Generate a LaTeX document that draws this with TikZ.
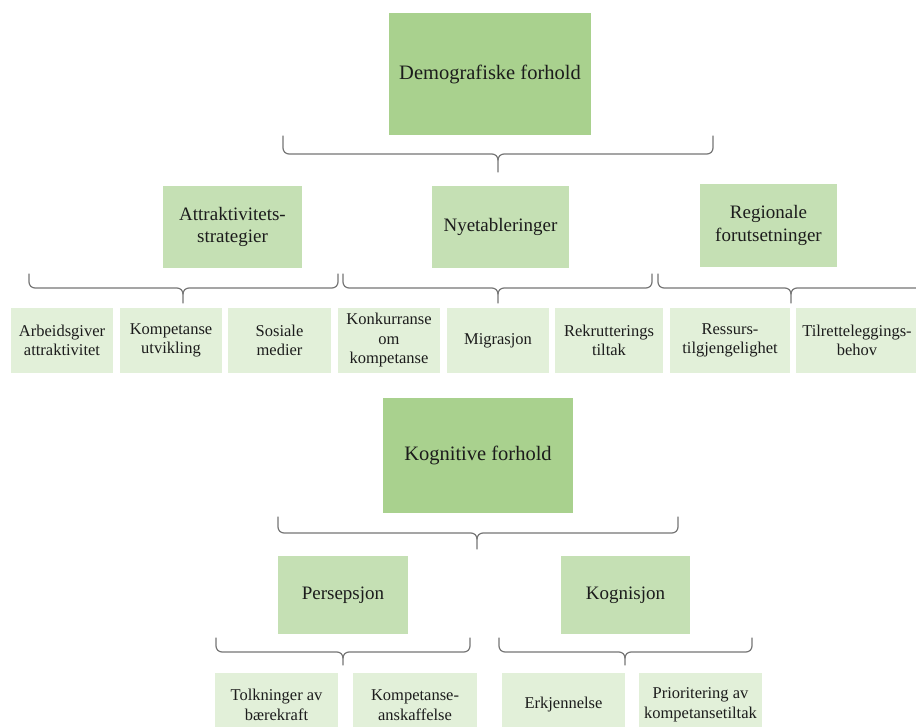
\documentclass[tikz,border=0pt]{standalone}
\usepackage{fontspec}
\setmainfont{Liberation Serif}
\definecolor{topgreen}{HTML}{A9D18E}
\definecolor{midgreen}{HTML}{C5E0B4}
\definecolor{leafgreen}{HTML}{E2F0D9}
\definecolor{bracegray}{HTML}{767676}
\definecolor{txt}{HTML}{1C1C1C}
\tikzset{
  box/.style={inner sep=0pt, align=center, text=txt},
  topbox/.style={box, fill=topgreen, font=\fontsize{20.5}{24}\selectfont},
  midbox/.style={box, fill=midgreen, font=\fontsize{19}{22.5}\selectfont},
  leafbox/.style={box, fill=leafgreen, font=\fontsize{16.5}{19.5}\selectfont},
  bracestyle/.style={draw=bracegray, line width=1.2pt, line cap=round},
}
% curly brace: left x, right x, tip x, top y, middle y, tip y
\newcommand\curlybrace[6]{%
  \draw[bracestyle] (#1,#4) -- (#1,#5-6) to[out=-90,in=180] (#1+6,#5) -- (#3-6,#5)
    to[out=0,in=90] (#3,#5+6) -- (#3,#6);
  \draw[bracestyle] (#2,#4) -- (#2,#5-6) to[out=-90,in=0] (#2-6,#5) -- (#3+6,#5)
    to[out=180,in=90] (#3,#5+6);
}
\begin{document}
\begin{tikzpicture}[x=1pt,y=-1pt]
\clip (0,0) rectangle (916,727);
\fill[white] (0,0) rectangle (916,727);

% demographic branch
\node[topbox, minimum width=202pt, minimum height=122pt] (demo) at (490,74) {Demografiske forhold};
\curlybrace{283}{713}{498}{136}{154}{172}

\node[midbox, minimum width=139pt, minimum height=82pt] (attr) at (232.5,227) {Attraktivitets-\\strategier};
\node[midbox, minimum width=137pt, minimum height=82pt] (nye) at (500.5,227) {Nyetableringer};
\node[midbox, minimum width=137pt, minimum height=83pt] (reg) at (768.5,225.5) {Regionale\\forutsetninger};

\curlybrace{29}{338}{183}{274}{288}{303}
\curlybrace{343}{652}{498}{274}{288}{303}
\curlybrace{658}{924}{791}{274}{288}{303}

\node[leafbox, minimum width=102pt, minimum height=65pt] (arb) at (62,340.5) {Arbeidsgiver\\attraktivitet};
\node[leafbox, minimum width=102pt, minimum height=65pt] (komp) at (171,340.5) {Kompetanse\\utvikling};
\node[leafbox, minimum width=103pt, minimum height=65pt] (sos) at (279.5,340.5) {Sosiale\\medier};
\node[leafbox, minimum width=102pt, minimum height=65pt] (konk) at (389,340.5) {Konkurranse\\om\\kompetanse};
\node[leafbox, minimum width=102pt, minimum height=65pt] (mig) at (498,340.5) {Migrasjon};
\node[leafbox, minimum width=108pt, minimum height=65pt] (rek) at (609,340.5) {Rekrutterings\\tiltak};
\node[leafbox, minimum width=120pt, minimum height=65pt] (res) at (730,340.5) {Ressurs-\\tilgjengelighet};
\node[leafbox, minimum width=122pt, minimum height=65pt] (til) at (857,340.5) {Tilretteleggings-\\behov};

% cognitive branch
\node[topbox, minimum width=190pt, minimum height=115pt] (kog) at (478,455.5) {Kognitive forhold};
\curlybrace{278}{678}{477}{517}{533}{549}

\node[midbox, minimum width=130pt, minimum height=78pt] (pers) at (343,595) {Persepsjon};
\node[midbox, minimum width=129pt, minimum height=78pt] (kogn) at (625.5,595) {Kognisjon};

\curlybrace{216}{470}{343}{638}{652}{665}
\curlybrace{499}{752}{625}{638}{652}{665}

\node[leafbox, minimum width=123pt, minimum height=64pt] (tolk) at (276.5,705) {Tolkninger av\\bærekraft};
\node[leafbox, minimum width=124pt, minimum height=64pt] (anska) at (415,705) {Kompetanse-\\anskaffelse};
\node[leafbox, minimum width=123pt, minimum height=64pt] (erk) at (563.5,705) {Erkjennelse};
\node[leafbox, minimum width=123pt, minimum height=64pt] (prio) at (700.5,705) {Prioritering av\\kompetansetiltak};
\end{tikzpicture}
\end{document}
